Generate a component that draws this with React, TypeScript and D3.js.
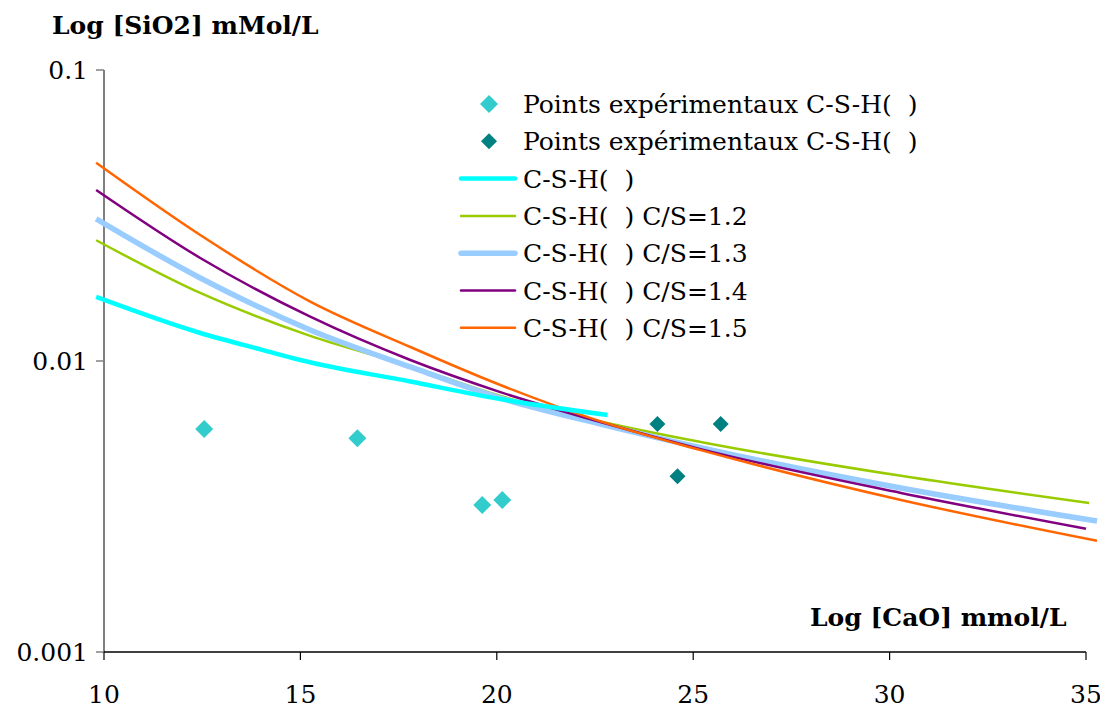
import React from "react";
import * as d3 from "d3";

const xTicks = [10, 15, 20, 25, 30, 35];
const yTicks = [0.1, 0.01, 0.001];
const yTickLabels = ["0.1", "0.01", "0.001"];

const expBetaX = [12.55, 16.45, 19.63, 20.14];
const expBetaY = [0.00584, 0.00543, 0.0032, 0.00333];
const expAlphaX = [24.09, 25.7, 24.6];
const expAlphaY = [0.00608, 0.00608, 0.00402];

const csxCyanX = [9.8, 12.45, 14.05, 15.0, 17.8, 20.09, 22.82];
const csxCyanY = [0.0166, 0.01248, 0.0109, 0.01008, 0.0085, 0.0074, 0.00652];

const curveX = [9.8, 12.45, 15.25, 17.8, 20.09, 22.64, 25.19, 30.29];
const cs12Y = [0.026, 0.01713, 0.0122, 0.0096, 0.00758, 0.0062, 0.00527, 0.00403];
const cs13Y = [0.0308, 0.01929, 0.01278, 0.00954, 0.00746, 0.00607, 0.00504, 0.00366];
const cs14Y = [0.0387, 0.0226, 0.0142, 0.01008, 0.00782, 0.00617, 0.00498, 0.00352];
const cs15Y = [0.048, 0.0271, 0.016, 0.01117, 0.00827, 0.0062, 0.00494, 0.00333];
const cs12EndX = 35.08, cs12EndY = 0.00325;
const cs13EndX = 35.28, cs13EndY = 0.00282;
const cs14EndX = 35.0, cs14EndY = 0.00265;
const cs15EndX = 35.28, cs15EndY = 0.00241;

const legendLabels = [
  "Points expérimentaux C-S-H(\u00A0\u00A0)",
  "Points expérimentaux C-S-H(\u00A0\u00A0)",
  "C-S-H(\u00A0\u00A0)",
  "C-S-H(\u00A0\u00A0) C/S=1.2",
  "C-S-H(\u00A0\u00A0) C/S=1.3",
  "C-S-H(\u00A0\u00A0) C/S=1.4",
  "C-S-H(\u00A0\u00A0) C/S=1.5",
];

const FONT = "DejaVu Serif";

export default function App() {
  const x = d3.scaleLinear().domain([10, 35]).range([104, 1086]);
  const y = d3.scaleLog().domain([0.001, 0.1]).range([652, 70]);

  const line = d3
    .line<[number, number]>()
    .x((d) => x(d[0]))
    .y((d) => y(d[1]))
    .curve(d3.curveMonotoneX);

  const mk = (xs: number[], ys: number[], ex?: number, ey?: number) => {
    const pts: [number, number][] = xs.map((v, i) => [v, ys[i]]);
    if (ex !== undefined && ey !== undefined) pts.push([ex, ey]);
    return line(pts) || "";
  };

  const series = [
    { d: mk(curveX, cs12Y, cs12EndX, cs12EndY), color: "#99CC00", w: 2.5 },
    { d: mk(curveX, cs13Y, cs13EndX, cs13EndY), color: "#99CCFF", w: 5.5 },
    { d: mk(curveX, cs14Y, cs14EndX, cs14EndY), color: "#800080", w: 2.5 },
    { d: mk(curveX, cs15Y, cs15EndX, cs15EndY), color: "#FF6600", w: 2.5 },
    { d: mk(csxCyanX, csxCyanY), color: "#00FFFF", w: 4.5 },
  ];

  const diamond = (cx: number, cy: number, r: number) =>
    `M${cx},${cy - r}L${cx + r},${cy}L${cx},${cy + r}L${cx - r},${cy}Z`;

  const legendRowY = (i: number) => 104 + i * 37.3;
  const legendItems = [
    { type: "marker", color: "#33CCCC" },
    { type: "marker", color: "#008080" },
    { type: "line", color: "#00FFFF", w: 4.5 },
    { type: "line", color: "#99CC00", w: 2.5 },
    { type: "line", color: "#99CCFF", w: 5.5 },
    { type: "line", color: "#800080", w: 2.5 },
    { type: "line", color: "#FF6600", w: 2.5 },
  ];

  return (
    <div style={{ fontFamily: FONT }}>
      <svg width={1108} height={717} style={{ display: "block", margin: "-8px", background: "#fff" }}>
        <rect width={1108} height={717} fill="#fff" />
        <text x={52} y={34} fontFamily={FONT} fontSize="25px" fontWeight="bold" fill="#000">
          Log [SiO2] mMol/L
        </text>
        <text x={810} y={626} fontFamily={FONT} fontSize="25px" fontWeight="bold" fill="#000">
          Log [CaO] mmol/L
        </text>

        <line x1={x(10)} x2={x(10)} y1={y(0.1)} y2={y(0.001)} stroke="#808080" strokeWidth={2} />
        {yTicks.map((t, i) => (
          <g key={"yt" + i}>
            <line x1={x(10) - 8} x2={x(10)} y1={y(t)} y2={y(t)} stroke="#808080" strokeWidth={1.5} />
            <text x={88} y={y(t) + 9} textAnchor="end" fontFamily={FONT} fontSize="25px" fill="#000">
              {yTickLabels[i]}
            </text>
          </g>
        ))}

        <line x1={x(10)} x2={x(35)} y1={y(0.001)} y2={y(0.001)} stroke="#000" strokeWidth={1.5} />
        {xTicks.map((t) => (
          <g key={"xt" + t}>
            <line x1={x(t)} x2={x(t)} y1={y(0.001)} y2={y(0.001) + 8} stroke="#000" strokeWidth={1.2} />
            <text x={x(t)} y={703} textAnchor="middle" fontFamily={FONT} fontSize="25px" fill="#000">
              {t}
            </text>
          </g>
        ))}

        {series.map((s, i) => (
          <path key={"s" + i} d={s.d} fill="none" stroke={s.color} strokeWidth={s.w} />
        ))}

        {expBetaX.map((v, i) => (
          <path key={"b" + i} d={diamond(x(v), y(expBetaY[i]), 9)} fill="#33CCCC" />
        ))}
        {expAlphaX.map((v, i) => (
          <path key={"a" + i} d={diamond(x(v), y(expAlphaY[i]), 8)} fill="#008080" />
        ))}

        {legendItems.map((it, i) => {
          const ry = legendRowY(i);
          return (
            <g key={"lg" + i}>
              {it.type === "marker" ? (
                <path d={diamond(489, ry, i === 0 ? 9 : 8)} fill={it.color} />
              ) : (
                <line x1={461} x2={515} y1={ry} y2={ry} stroke={it.color} strokeWidth={it.w} strokeLinecap="round" />
              )}
              <text x={523} y={ry + 9} fontFamily={FONT} fontSize="25px" fill="#000">
                {legendLabels[i]}
              </text>
            </g>
          );
        })}
      </svg>
    </div>
  );
}
